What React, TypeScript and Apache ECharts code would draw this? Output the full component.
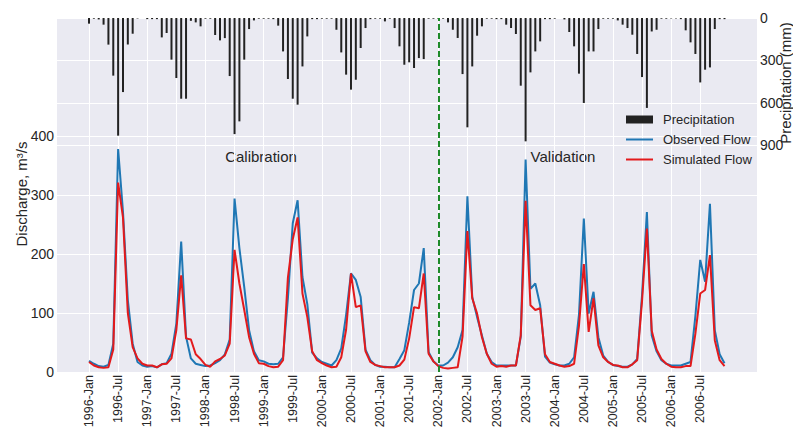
import React, { useEffect, useRef } from 'react';
import * as echarts from 'echarts';

// Tick labels on the time axis (one every 6 months, starting at 1996-Jan = month 0)
const tickLabels = [
  '1996-Jan', '1996-Jul', '1997-Jan', '1997-Jul', '1998-Jan', '1998-Jul',
  '1999-Jan', '1999-Jul', '2000-Jan', '2000-Jul', '2001-Jan', '2001-Jul',
  '2002-Jan', '2002-Jul', '2003-Jan', '2003-Jul', '2004-Jan', '2004-Jul',
  '2005-Jan', '2005-Jul', '2006-Jan', '2006-Jul',
];
const dischargeTicks = [0, 100, 200, 300, 400];
const precipTicks = [0, 300, 600, 900];

// Monthly precipitation (mm), 1996-Jan .. 2006-Dec
const precipitation = [
  40, 5, 10, 47, 188, 407, 831, 523, 188, 111, 3, 0,
  8, 8, 8, 137, 106, 294, 424, 570, 570, 20, 31, 59,
  5, 5, 120, 158, 142, 410, 820, 730, 294, 78, 17, 5,
  5, 5, 8, 54, 236, 431, 570, 612, 342, 130, 8, 8,
  5, 5, 5, 83, 243, 400, 506, 436, 212, 71, 8, 5,
  5, 24, 5, 71, 200, 330, 313, 353, 283, 290, 5, 5,
  5, 5, 31, 83, 141, 396, 772, 342, 125, 59, 5, 5,
  8, 8, 47, 71, 113, 478, 871, 384, 236, 165, 8, 8,
  5, 0, 10, 99, 200, 393, 600, 236, 236, 78, 5, 5,
  5, 17, 47, 71, 118, 254, 417, 635, 95, 83, 5, 5,
  3, 3, 8, 87, 172, 254, 455, 365, 349, 78, 8, 8,
];

// Observed discharge (m3/s)
const observedFlow = [
  19, 14, 10, 9, 12, 48, 378, 272, 122, 48, 17, 11,
  9, 10, 8, 13, 15, 31, 82, 221, 60, 23, 14, 12,
  10, 11, 15, 20, 30, 55, 294, 210, 144, 71, 35, 20,
  18, 14, 13, 14, 25, 125, 252, 291, 161, 115, 33, 23,
  17, 14, 11, 20, 40, 97, 167, 156, 127, 38, 20, 12,
  9, 9, 8, 8, 22, 37, 84, 139, 150, 210, 34, 18,
  11, 11, 16, 25, 42, 71, 298, 127, 93, 62, 31, 17,
  11, 11, 11, 11, 11, 60, 360, 141, 150, 113, 26, 16,
  13, 11, 11, 14, 25, 97, 260, 99, 136, 59, 28, 17,
  12, 10, 9, 9, 13, 22, 130, 271, 62, 35, 20, 14,
  11, 11, 11, 14, 17, 95, 190, 153, 285, 71, 30, 15,
];

// Simulated discharge (m3/s)
const simulatedFlow = [
  17, 11, 8, 7, 8, 38, 321, 262, 100, 42, 23, 14,
  11, 11, 8, 13, 14, 23, 71, 164, 57, 55, 30, 22,
  12, 9, 18, 22, 28, 48, 207, 150, 105, 59, 31, 15,
  14, 10, 8, 9, 20, 160, 225, 262, 133, 93, 35, 20,
  15, 11, 8, 9, 25, 72, 167, 110, 113, 35, 17, 12,
  10, 8, 8, 8, 11, 21, 57, 110, 108, 167, 31, 18,
  10, 7, 6, 7, 8, 60, 239, 125, 99, 59, 31, 14,
  9, 10, 9, 11, 11, 62, 290, 113, 105, 108, 30, 17,
  14, 11, 9, 10, 14, 78, 183, 68, 125, 45, 25, 17,
  12, 11, 8, 8, 13, 20, 120, 243, 70, 38, 22, 14,
  9, 8, 8, 10, 10, 65, 133, 139, 198, 54, 20, 10,
];

const splitMonth = 72; // 2002-Jan
const periodLabels = ['Calibration', 'Validation'];

const FONT = '"Liberation Sans", Arial, Helvetica, sans-serif';
const TXT = '#262626';

export default function App() {
  const ref = useRef<HTMLDivElement>(null);

  useEffect(() => {
    if (!ref.current) return;
    const chart = echarts.init(ref.current, null, { renderer: 'svg' });
    const pairs = (arr: number[]) => arr.map((v, i) => [i, v]);
    const tickValues = tickLabels.map((_, i) => i * 6);

    chart.setOption({
      animation: false,
      textStyle: { fontFamily: FONT },
      grid: {
        left: 57,
        right: 36,
        top: 18,
        bottom: 56,
        containLabel: false,
        outerBoundsMode: 'none',
        show: true,
        backgroundColor: '#EAEAF2',
        borderWidth: 0,
      },
      xAxis: {
        type: 'value',
        min: -6.6,
        max: 137.7,
        axisLine: { show: false },
        axisTick: { show: false, customValues: tickValues },
        axisLabel: {
          customValues: tickValues,
          rotate: 90,
          margin: 3,
          fontSize: 12.5,
          color: TXT,
          fontFamily: FONT,
          formatter: (v: number) => tickLabels[Math.round(v / 6)] ?? '',
        },
        splitLine: { show: true, lineStyle: { color: '#ffffff', width: 1 } },
      },
      yAxis: [
        {
          type: 'value',
          min: 0,
          max: 600,
          axisLine: { show: false },
          axisTick: { show: false, customValues: dischargeTicks },
          axisLabel: { customValues: dischargeTicks, fontSize: 14, color: TXT, margin: 3, fontFamily: FONT },
          splitLine: { show: true, lineStyle: { color: '#ffffff', width: 1 } },
        },
        {
          type: 'value',
          position: 'right',
          inverse: true,
          min: 0,
          max: 2500,
          axisLine: { show: false },
          axisTick: { show: false, customValues: precipTicks },
          axisLabel: { customValues: precipTicks, fontSize: 14, color: TXT, margin: 3, fontFamily: FONT },
          splitLine: { show: true, lineStyle: { color: '#ffffff', width: 1 } },
        },
      ],
      legend: {
        orient: 'vertical',
        left: 625,
        top: 112,
        padding: 0,
        itemWidth: 27,
        itemHeight: 8,
        itemGap: 5,
        textStyle: { fontSize: 13, color: TXT, fontFamily: FONT, lineHeight: 15, padding: [0, 0, 0, 5] },
        data: [
          { name: 'Precipitation', icon: 'rect' },
          { name: 'Observed Flow', itemStyle: { opacity: 0 } },
          { name: 'Simulated Flow', itemStyle: { opacity: 0 } },
        ],
      },
      series: [
        {
          name: 'Precipitation',
          type: 'bar',
          yAxisIndex: 1,
          barWidth: 2,
          itemStyle: { color: '#222222' },
          data: pairs(precipitation),
        },
        {
          name: 'Observed Flow',
          type: 'line',
          yAxisIndex: 0,
          showSymbol: false,
          lineStyle: { color: '#1f77b4', width: 2 },
          itemStyle: { color: '#1f77b4' },
          data: pairs(observedFlow),
          markLine: {
            silent: true,
            symbol: ['none', 'none'],
            label: { show: false },
            lineStyle: { color: '#1e8a2a', width: 2, type: [6, 3] },
            data: [{ xAxis: splitMonth }],
          },
        },
        {
          name: 'Simulated Flow',
          type: 'line',
          yAxisIndex: 0,
          showSymbol: false,
          lineStyle: { color: '#e31a1c', width: 2 },
          itemStyle: { color: '#e31a1c' },
          data: pairs(simulatedFlow),
        },
      ],
      graphic: [
        {
          type: 'text',
          x: 261,
          y: 156,
          style: { text: periodLabels[0], fontSize: 15, fill: TXT, fontFamily: FONT, align: 'center', verticalAlign: 'middle' },
        },
        {
          type: 'text',
          x: 563,
          y: 156,
          style: { text: periodLabels[1], fontSize: 15, fill: TXT, fontFamily: FONT, align: 'center', verticalAlign: 'middle' },
        },
        {
          type: 'text',
          x: 21,
          y: 194,
          rotation: Math.PI / 2,
          style: { text: 'Discharge, m³/s', fontSize: 15, fill: TXT, fontFamily: FONT, align: 'center', verticalAlign: 'middle' },
        },
        {
          type: 'text',
          x: 785,
          y: 83,
          rotation: Math.PI / 2,
          style: { text: 'Precipitation (mm)', fontSize: 15, fill: TXT, fontFamily: FONT, align: 'center', verticalAlign: 'middle' },
        },
      ],
    });

    return () => chart.dispose();
  }, []);

  return (
    <div
      ref={ref}
      style={{ position: 'absolute', left: 0, top: 0, width: 793, height: 428 }}
    />
  );
}
